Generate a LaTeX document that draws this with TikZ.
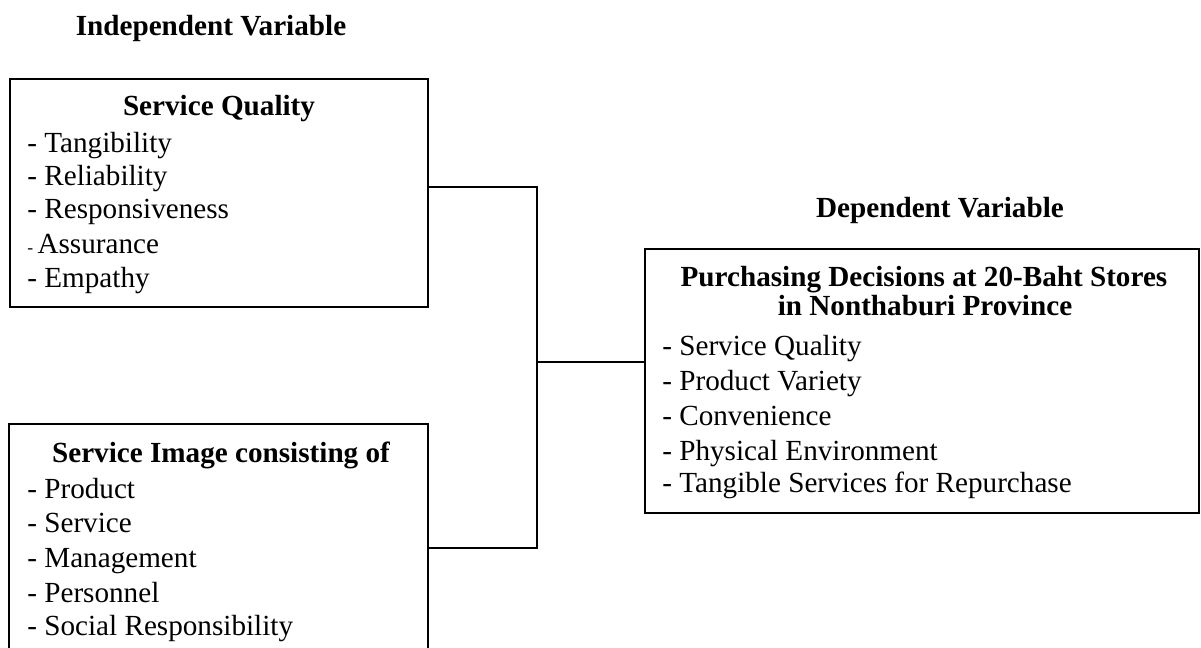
\documentclass[tikz,border=0pt]{standalone}
\usepackage{fontspec}
\setmainfont{Liberation Serif}
\usepackage{tikz}

\begin{document}
\begin{tikzpicture}[x=0.02cm,y=-0.02cm,
  box/.style={draw,line width=1pt,inner sep=0pt},
  item/.style={anchor=west,inner sep=0pt,font=\fontsize{16.6}{20}\selectfont,
    text height=11pt,text depth=3.6pt},
  head/.style={inner sep=0pt,font=\fontsize{16.6}{20}\selectfont\bfseries,
    text height=11pt,text depth=3.6pt}]
  \useasboundingbox (0,0) rectangle (1201,648);
  \clip (0,0) rectangle (1201,648);
  % headings
  \node[head] (indep) at (211,29) {Independent Variable};
  \node[head] (dep) at (940,211) {Dependent Variable};
  % left upper box: service quality
  \node[box,minimum width=8.36cm,minimum height=4.56cm] (sq) at (219,193) {};
  \node[head] (sqtitle) at (219,109) {Service Quality};
  \node[item] (sq1) at (27,146) {- Tangibility};
  \node[item] (sq2) at (27,179) {- Reliability};
  \node[item] (sq3) at (27,212) {- Responsiveness};
  \node[item] (sq4) at (27,247) {{\fontsize{10}{10}\selectfont-}\hspace{2.5pt}Assurance};
  \node[item] (sq5) at (27,281) {- Empathy};
  % left lower box: service image, runs off the bottom edge
  \node[box,minimum width=8.38cm,minimum height=5.12cm] (si) at (218.5,552) {};
  \node[head] (sititle) at (221,456) {Service Image consisting of};
  \node[item] (si1) at (27,492) {- Product};
  \node[item] (si2) at (27,526) {- Service};
  \node[item] (si3) at (27,561) {- Management};
  \node[item] (si4) at (27,596) {- Personnel};
  \node[item] (si5) at (27,629) {- Social Responsibility};
  % right box: purchasing decisions
  \node[box,minimum width=11.08cm,minimum height=5.28cm] (pd) at (922,381) {};
  \node[head] (pdtitle) at (924,280) {Purchasing Decisions at 20-Baht Stores};
  \node[head] (pdtitle2) at (925,309) {in Nonthaburi Province};
  \node[item] (pd1) at (662,349) {- Service Quality};
  \node[item] (pd2) at (662,384) {- Product Variety};
  \node[item] (pd3) at (662,419) {- Convenience};
  \node[item] (pd4) at (662,454) {- Physical Environment};
  \node[item] (pd5) at (662,486) {- Tangible Services for Repurchase};
  % bracket joining the two left boxes to the right one
  \coordinate (jtop) at (537,187);
  \coordinate (jmid) at (537,362);
  \coordinate (jbot) at (537,548);
  \draw[line width=1pt] (sq.east |- jtop) -- (jtop) -- (jbot) -- (si.east |- jbot);
  \draw[line width=1pt] (jmid) -- (pd.west |- jmid);
\end{tikzpicture}
\end{document}
